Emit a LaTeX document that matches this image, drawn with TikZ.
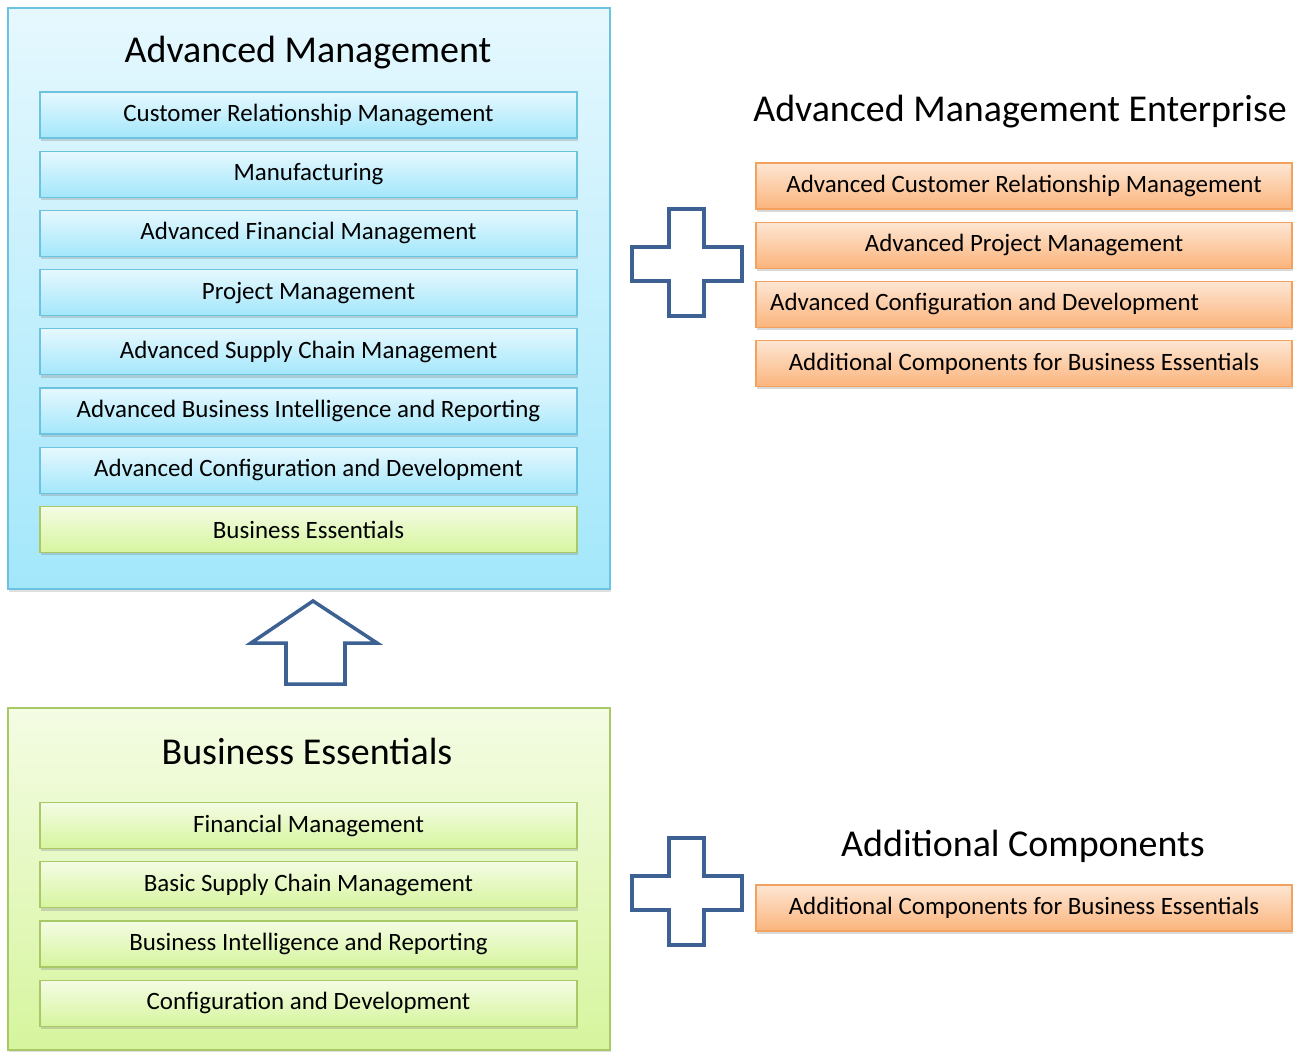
\documentclass[tikz,border=0pt]{standalone}
\usepackage{fontspec}
\setmainfont{Carlito}
\usetikzlibrary{positioning, shadows}
\definecolor{blueedge}{HTML}{6CC3DF}
\definecolor{bluetop}{HTML}{E6F8FE}
\definecolor{bluebot}{HTML}{A3E7FB}
\definecolor{greenedge}{HTML}{A9C967}
\definecolor{greentop}{HTML}{F4FCE4}
\definecolor{greenbot}{HTML}{D6F59E}
\definecolor{orangeedge}{HTML}{F2A25E}
\definecolor{orangetop}{HTML}{FDE6D3}
\definecolor{orangebot}{HTML}{FBB47C}
\definecolor{signblue}{HTML}{3D6193}

\begin{document}
\begin{tikzpicture}[x=0.02cm, y=-0.02cm,
	box/.style={draw, line width=0.7pt, shading=axis, minimum width=10.74cm, minimum height=0.92cm,
		font=\fontsize{14.2}{16}\selectfont, drop shadow={opacity=0.3, shadow xshift=0.6pt, shadow yshift=-1.6pt}},
	bluebox/.style={box, draw=blueedge, top color=bluetop, bottom color=bluebot},
	greenbox/.style={box, draw=greenedge, top color=greentop, bottom color=greenbot},
	orangebox/.style={box, draw=orangeedge, top color=orangetop, bottom color=orangebot, minimum width=10.72cm},
	panel/.style={draw, line width=0.8pt, shading=axis, minimum width=12.04cm,
		drop shadow={opacity=0.25, shadow xshift=0.6pt, shadow yshift=-1.6pt}},
	heading/.style={font=\fontsize{21.6}{26}\selectfont},
	sign/.style={draw=signblue, line width=2pt, fill=white},
	node distance=0.24cm]

	\useasboundingbox (0,0) rectangle (1296,1052);

	%panels
	\node (advpanel) [panel, draw=blueedge, top color=bluetop, bottom color=bluebot, minimum height=11.62cm] at (309,298.5) {};
	\node (bepanel) [panel, draw=greenedge, top color=greentop, bottom color=greenbot, minimum height=6.84cm] at (309,879) {};

	%headings
	\node (advtitle) [heading] at (308,53) {Advanced Management};
	\node (betitle) [heading] at (307,751) {Business Essentials};
	\node (enttitle) [heading] at (1020,112) {Advanced Management Enterprise};
	\node (addtitle) [heading] at (1023,846) {Additional Components};

	%advanced management modules
	\node (crm) [bluebox] at (308.5,115) {Customer Relationship Management};
	\node (mfg) [bluebox, below=of crm] {Manufacturing};
	\node (afm) [bluebox, below=of mfg] {Advanced Financial Management};
	\node (pm) [bluebox, below=of afm] {Project Management};
	\node (ascm) [bluebox, below=of pm] {Advanced Supply Chain Management};
	\node (abir) [bluebox, below=of ascm] {Advanced Business Intelligence and Reporting};
	\node (acd) [bluebox, below=of abir] {Advanced Configuration and Development};
	\node (bess) [greenbox, below=of acd] {Business Essentials};

	%business essentials modules
	\node (fm) [greenbox] at (308.5,825.5) {Financial Management};
	\node (bscm) [greenbox, below=of fm] {Basic Supply Chain Management};
	\node (bir) [greenbox, below=of bscm] {Business Intelligence and Reporting};
	\node (cd) [greenbox, below=of bir] {Configuration and Development};

	%enterprise modules
	\node (acrm) [orangebox] at (1024,186) {Advanced Customer Relationship Management};
	\node (apm) [orangebox, below=of acrm] {Advanced Project Management};
	\node (eacd) [orangebox, below=of apm] {\makebox[10.16cm][l]{Advanced Configuration and Development}};
	\node (acbe) [orangebox, below=of eacd] {Additional Components for Business Essentials};

	%additional components
	\node (addbe) [orangebox] at (1024,908) {Additional Components for Business Essentials};

	%upgrade arrow
	\draw[sign] (313,601) -- (377,643) -- (345,643) -- (345,684) -- (286,684) -- (286,643) -- (251,643) -- cycle;

	%plus signs
	\draw[sign] (669,209) -- (704,209) -- (704,247) -- (742,247) -- (742,281) -- (704,281) -- (704,316)
		-- (669,316) -- (669,281) -- (632,281) -- (632,247) -- (669,247) -- cycle;
	\draw[sign] (669,838) -- (704,838) -- (704,876) -- (742,876) -- (742,910) -- (704,910) -- (704,945)
		-- (669,945) -- (669,910) -- (632,910) -- (632,876) -- (669,876) -- cycle;

\end{tikzpicture}
\end{document}
